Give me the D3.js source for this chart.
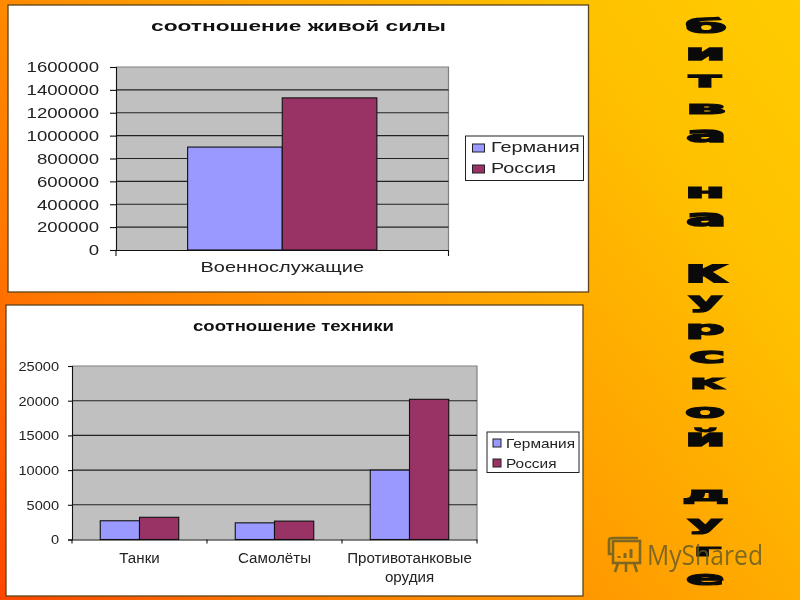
<!DOCTYPE html>
<html>
<head>
<meta charset="utf-8">
<script src="https://cdnjs.cloudflare.com/ajax/libs/d3/7.8.5/d3.min.js"></script>
<style>
  html, body { margin: 0; padding: 0; background: #ff9000; }
  svg { display: block; filter: blur(0.4px); }
  text { font-family: "Liberation Sans", Arial, sans-serif; }
</style>
</head>
<body>
<div id="graph"></div>
<script>
// Data
const seriesNames = ['Германия', 'Россия'];
const seriesColors = ['#9999ff', '#993366'];

const peopleTitle = 'соотношение живой силы';
const peopleCategories = ['Военнослужащие'];
const peopleGermany = [900000];
const peopleRussia = [1330000];
const peopleTicks = [0, 200000, 400000, 600000, 800000, 1000000, 1200000, 1400000, 1600000];

const techTitle = 'соотношение техники';
const techCategories = ['Танки', 'Самолёты', 'Противотанковые орудия'];
const techGermany = [2700, 2400, 10000];
const techRussia = [3200, 2650, 20200];
const techTicks = [0, 5000, 10000, 15000, 20000, 25000];

const sideLetters = 'битванакурскойдуге'.split('');
// Box of every side letter: x0, x1, y0, y1
const sideBoxes = [
	[687, 725, 16.5, 32.5], [689, 722, 47.5, 59.5], [689, 722, 74.5, 86.5], [690, 724, 103.5, 113.5],
	[688, 722, 129.5, 141.5], [689, 722, 186.5, 197.5], [688, 722, 212.5, 225.5], [689, 726, 264.5, 281.5],
	[689, 723, 296.5, 312.5], [689, 724, 323.5, 338.5], [691, 722, 350.5, 362.5], [693, 724, 377.5, 388.5],
	[687, 724, 406.5, 417.5], [689, 722, 427.5, 445.5], [684, 727, 490.5, 504.5], [688, 723, 518.5, 533.5],
	[697, 720, 546.5, 555.5], [688, 722, 573.5, 584.5],
];

const svg = d3.select('#graph').append('svg').attr('width', 800).attr('height', 600);

// Background gradient
const grad = svg.append('defs').append('linearGradient')
	.attr('id', 'bg')
	.attr('gradientUnits', 'userSpaceOnUse')
	.attr('x1', 0).attr('y1', 600).attr('x2', 800).attr('y2', 0);
grad.append('stop').attr('offset', 0).attr('stop-color', '#ff4500');
grad.append('stop').attr('offset', 0.2).attr('stop-color', '#ff7400');
grad.append('stop').attr('offset', 0.5).attr('stop-color', '#ff9c00');
grad.append('stop').attr('offset', 0.8).attr('stop-color', '#ffc000');
grad.append('stop').attr('offset', 1).attr('stop-color', '#ffcc00');
svg.append('rect').attr('width', 800).attr('height', 600).attr('fill', 'url(#bg)');

// Stretch a text selection sideways, the photo of the slide is wider than tall
function stretch(sel, k) {
	sel.each(function () {
		const len = this.getComputedTextLength();
		d3.select(this).attr('textLength', len * k).attr('lengthAdjust', 'spacingAndGlyphs');
	});
}

function drawChart(o) {
	const g = svg.append('g');

	// White panel
	g.append('rect')
		.attr('x', o.panel[0]).attr('y', o.panel[1])
		.attr('width', o.panel[2] - o.panel[0]).attr('height', o.panel[3] - o.panel[1])
		.attr('fill', '#fff').attr('stroke', '#5c4318').attr('stroke-width', 1.3);

	g.append('text')
		.attr('x', o.titleX).attr('y', o.titleY)
		.attr('font-weight', 'bold').attr('font-size', 15).attr('fill', '#111')
		.attr('textLength', o.titleW).attr('lengthAdjust', 'spacingAndGlyphs')
		.text(o.title);

	const y = d3.scaleLinear().domain([0, d3.max(o.ticks)]).range([o.plot[3], o.plot[1]]);
	const x0 = d3.scaleBand().domain(o.categories).range([o.plot[0], o.plot[2]]);
	const x1 = d3.scaleBand().domain(seriesNames).range([0, x0.bandwidth()])
		.paddingInner(0).paddingOuter(o.outer);

	// Plot background
	g.append('rect')
		.attr('x', o.plot[0]).attr('y', o.plot[1])
		.attr('width', o.plot[2] - o.plot[0]).attr('height', o.plot[3] - o.plot[1])
		.attr('fill', '#c0c0c0');
	g.append('path')
		.attr('d', `M${o.plot[0]},${o.plot[1]}H${o.plot[2]}V${o.plot[3]}`)
		.attr('fill', 'none').attr('stroke', '#808080').attr('stroke-width', 1.2);

	// Grid lines
	g.append('g').selectAll('line')
		.data(o.ticks.filter((d) => d > 0 && d < d3.max(o.ticks)))
		.join('line')
		.attr('x1', o.plot[0]).attr('x2', o.plot[2])
		.attr('y1', (d) => y(d)).attr('y2', (d) => y(d))
		.attr('stroke', '#222').attr('stroke-width', 1.1);

	// Bars
	const rows = o.categories.map((c, i) => ({ c, vals: [o.germany[i], o.russia[i]] }));
	g.append('g').selectAll('g')
		.data(rows)
		.join('g')
		.attr('transform', (d) => `translate(${x0(d.c)},0)`)
		.selectAll('rect')
		.data((d) => d.vals.map((v, i) => ({ v, i })))
		.join('rect')
		.attr('x', (d) => x1(seriesNames[d.i]))
		.attr('width', x1.bandwidth())
		.attr('y', (d) => y(d.v))
		.attr('height', (d) => y(0) - y(d.v))
		.attr('fill', (d) => seriesColors[d.i])
		.attr('stroke', '#111').attr('stroke-width', 1.1);

	// Y axis
	const yAxis = g.append('g')
		.attr('transform', `translate(${o.plot[0]},0)`)
		.call(d3.axisLeft(y).tickValues(o.ticks).tickSize(o.tickLen).tickPadding(o.yPad).tickFormat(d3.format('d')));
	yAxis.select('.domain').attr('stroke', '#111').attr('stroke-width', 1.1);
	yAxis.selectAll('line').attr('stroke', '#111').attr('stroke-width', 1.1);
	yAxis.selectAll('text')
		.attr('font-size', o.tickFont).attr('fill', '#222')
		.style('font-family', '"Liberation Sans", Arial, sans-serif')
		.call(stretch, o.yStretch);

	// X axis: labels in the middle of a band, ticks on the band edges
	const xAxis = g.append('g')
		.attr('transform', `translate(0,${o.plot[3]})`)
		.call(d3.axisBottom(x0).tickSize(0).tickPadding(o.xPad));
	xAxis.select('.domain').attr('stroke', '#111').attr('stroke-width', 1.1);
	xAxis.selectAll('text')
		.attr('font-size', o.catFont).attr('fill', '#222')
		.style('font-family', '"Liberation Sans", Arial, sans-serif')
		.each(function (d) {
			const words = d.split(' ');
			if (words.length < 2) return;
			const t = d3.select(this).text(null);
			words.forEach((w, i) => {
				t.append('tspan').attr('x', 0).attr('dy', i ? '1.3em' : '0.71em').text(w);
			});
			t.attr('dy', null);
		});
	xAxis.selectAll('text').filter(function () { return !this.querySelector('tspan'); })
		.call(stretch, o.catStretch);
	xAxis.selectAll('tspan').call(stretch, o.catStretch);
	xAxis.selectAll('line.edge')
		.data(d3.range(o.categories.length + 1))
		.join('line')
		.attr('class', 'edge')
		.attr('x1', (i) => o.plot[0] + i * x0.step())
		.attr('x2', (i) => o.plot[0] + i * x0.step())
		.attr('y1', 0).attr('y2', o.tickLen)
		.attr('stroke', '#111').attr('stroke-width', 1.1);

	// Legend
	const L = o.legend;
	g.append('rect')
		.attr('x', L.x0).attr('y', L.y0)
		.attr('width', L.x1 - L.x0).attr('height', L.y1 - L.y0)
		.attr('fill', '#fff').attr('stroke', '#222').attr('stroke-width', 1);
	const items = g.append('g').selectAll('g').data(seriesNames).join('g');
	items.append('rect')
		.attr('x', L.swatchX).attr('y', (d, i) => L.rowY[i] - L.swatch / 2)
		.attr('width', L.swatchW).attr('height', L.swatch)
		.attr('fill', (d, i) => seriesColors[i])
		.attr('stroke', '#222').attr('stroke-width', 1);
	items.append('text')
		.attr('x', L.textX).attr('y', (d, i) => L.rowY[i] + L.baseline)
		.attr('font-size', L.font).attr('fill', '#222')
		.text((d) => d)
		.call(stretch, L.stretch);
}

drawChart({
	panel: [8, 5, 588.5, 292],
	title: peopleTitle, titleX: 151, titleY: 31, titleW: 295,
	plot: [116, 67, 448.5, 250],
	categories: peopleCategories, germany: peopleGermany, russia: peopleRussia, ticks: peopleTicks,
	outer: 0.757, tickLen: 6, yPad: 11, xPad: 11,
	tickFont: 15, yStretch: 1.24, catFont: 15, catStretch: 1.33,
	legend: { x0: 465.5, y0: 136, x1: 583.5, y1: 180.5, swatchX: 472.5, swatchW: 12, swatch: 8, rowY: [148, 169], textX: 491, baseline: 4, font: 15, stretch: 1.32 },
});

drawChart({
	panel: [6, 305, 583, 596],
	title: techTitle, titleX: 193, titleY: 331, titleW: 201,
	plot: [72, 366, 477, 539.5],
	categories: techCategories, germany: techGermany, russia: techRussia, ticks: techTicks,
	outer: 0.72, tickLen: 4, yPad: 9, xPad: 14,
	tickFont: 13.5, yStretch: 1.08, catFont: 14, catStretch: 1.08,
	legend: { x0: 487, y0: 432, x1: 579, y1: 472.5, swatchX: 493, swatchW: 8, swatch: 8, rowY: [443, 463], textX: 506, baseline: 4.5, font: 13.5, stretch: 1.14 },
});

// Side title, every letter is fitted to its box
svg.append('g').selectAll('text')
	.data(sideLetters)
	.join('text')
	.attr('font-weight', 'bold')
	.attr('font-size', 30)
	.attr('fill', '#0a0a0a')
	.attr('stroke', '#0a0a0a')
	.attr('stroke-width', 1.9)
	.style('font-family', '"DejaVu Sans", sans-serif')
	.text((d) => d)
	.each(function (d, i) {
		const [bx0, bx1, by0, by1] = sideBoxes[i];
		// Canvas metrics give the ink of the glyph, not the font box
		const ctx = document.createElement('canvas').getContext('2d');
		ctx.font = 'bold 30px "DejaVu Sans"';
		const m = ctx.measureText(d);
		const inkW = m.actualBoundingBoxLeft + m.actualBoundingBoxRight;
		const inkH = m.actualBoundingBoxAscent + m.actualBoundingBoxDescent;
		const sx = (bx1 - bx0) / inkW;
		const sy = (by1 - by0) / inkH;
		d3.select(this).attr('transform', `translate(${bx0 + m.actualBoundingBoxLeft * sx},${by0 + m.actualBoundingBoxAscent * sy}) scale(${sx},${sy})`);
	});

// Watermark
const mark = svg.append('g').attr('opacity', 0.8);
mark.append('text')
	.attr('x', 647).attr('y', 565)
	.attr('font-size', 28).attr('fill', '#5f5a2a')
	.style('font-family', '"Open Sans", sans-serif')
	.attr('textLength', 116).attr('lengthAdjust', 'spacingAndGlyphs')
	.text('MyShared');
const icon = mark.append('g')
	.attr('fill', 'none').attr('stroke', '#5f5a2a').attr('stroke-width', 2.6);
icon.append('rect').attr('x', 613).attr('y', 541).attr('width', 27).attr('height', 22);
icon.append('path').attr('d', 'M609,540 q0,-2 4,-2 h25 M609,540 v14 h4 M618,563 l-3,9 M626,563 v9 M634,563 l3,9');
icon.append('path').attr('d', 'M619,558 v-2 M625,558 v-5 M631,558 v-9').attr('stroke-width', 3);
</script>
</body>
</html>
